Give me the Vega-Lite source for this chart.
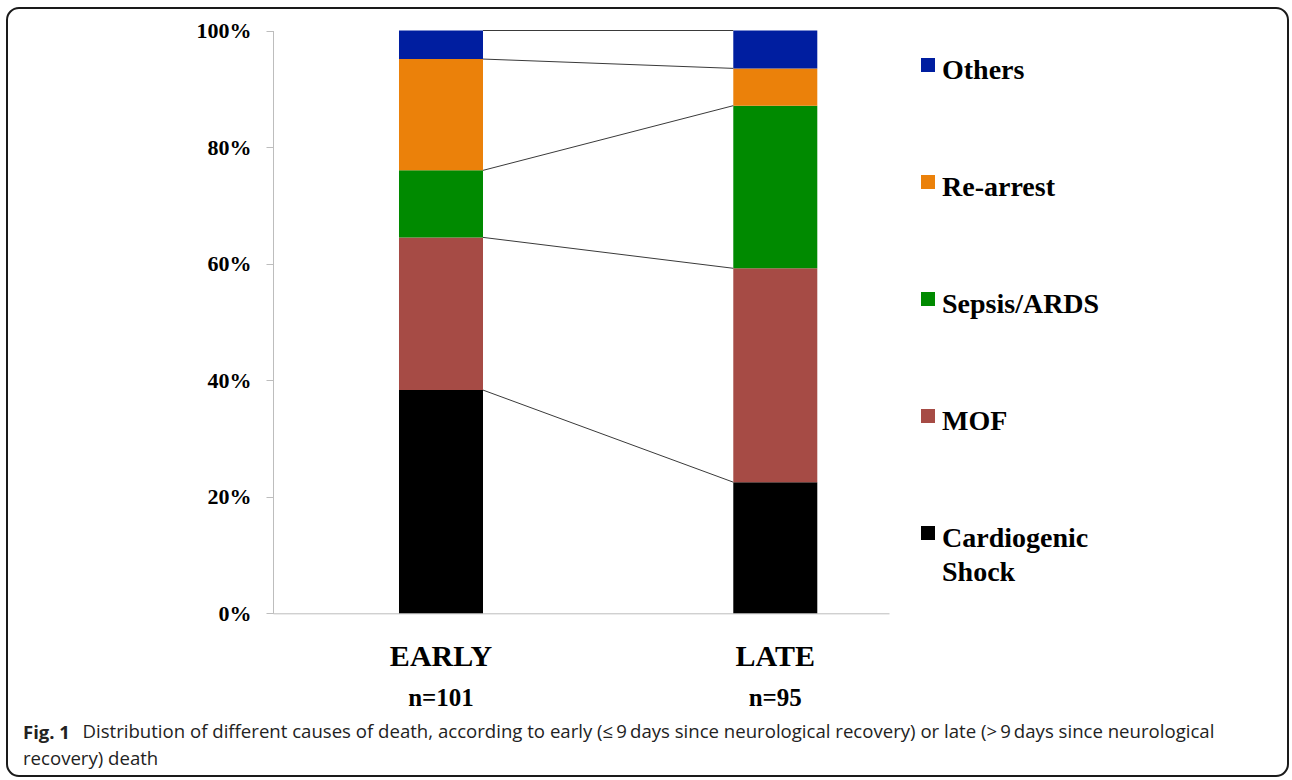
{
  "$schema": "https://vega.github.io/schema/vega-lite/v6.json",
  "width": 1281,
  "height": 768,
  "autosize": "none",
  "padding": {"left": 7, "top": 8, "right": 4, "bottom": 4},
  "background": "white",
  "config": {
    "view": {"stroke": "#1a1a1a", "strokeWidth": 2, "cornerRadius": 12, "fill": "white"},
    "axis": {"grid": false, "title": null, "domainColor": "#bdbdbd", "tickColor": "#bdbdbd", "labelColor": "#000000", "labelFont": "Liberation Serif", "labelFontWeight": "bold"}
  },
  "title": {
    "text": "Fig. 1",
    "subtitle": "recovery) death",
    "orient": "bottom",
    "anchor": "start",
    "frame": "group",
    "offset": -52,
    "dx": 16,
    "font": "Open Sans",
    "fontSize": 18.5,
    "fontWeight": "bold",
    "color": "#222222",
    "subtitleFont": "Open Sans",
    "subtitleFontSize": 18.6,
    "subtitleFontWeight": "normal",
    "subtitleColor": "#222222",
    "subtitlePadding": 7
  },
  "data": {
    "values": [
      {"group": "EARLY", "cause": "Cardiogenic Shock", "rank": 1, "pct": 38.3},
      {"group": "EARLY", "cause": "MOF", "rank": 2, "pct": 26.2},
      {"group": "EARLY", "cause": "Sepsis/ARDS", "rank": 3, "pct": 11.5},
      {"group": "EARLY", "cause": "Re-arrest", "rank": 4, "pct": 19.1},
      {"group": "EARLY", "cause": "Others", "rank": 5, "pct": 4.9},
      {"group": "LATE", "cause": "Cardiogenic Shock", "rank": 1, "pct": 22.5},
      {"group": "LATE", "cause": "MOF", "rank": 2, "pct": 36.7},
      {"group": "LATE", "cause": "Sepsis/ARDS", "rank": 3, "pct": 27.9},
      {"group": "LATE", "cause": "Re-arrest", "rank": 4, "pct": 6.4},
      {"group": "LATE", "cause": "Others", "rank": 5, "pct": 6.5}
    ]
  },
  "resolve": {"scale": {"x": "shared", "y": "shared"}, "axis": {"x": "independent"}},
  "layer": [
    {
      "mark": {"type": "bar"},
      "encoding": {
        "x": {
          "field": "group",
          "type": "nominal",
          "scale": {"domain": ["EARLY", "LATE"], "range": [266, 882], "paddingInner": 0.7487, "paddingOuter": 0.2957, "align": 0.6373},
          "axis": {"orient": "bottom", "offset": -162.7, "ticks": false, "labelAngle": 0, "labelFontSize": 30, "labelPadding": 28, "domainColor": "#bdbdbd"}
        },
        "y": {
          "field": "pct",
          "type": "quantitative",
          "stack": "zero",
          "scale": {"domain": [0, 100], "range": [605.3, 22.5], "nice": false, "zero": true},
          "axis": {"orient": "left", "offset": -266, "values": [0, 20, 40, 60, 80, 100], "labelExpr": "datum.value + '%'", "labelFontSize": 22, "tickSize": 7, "labelPadding": 15}
        },
        "order": {"field": "rank", "type": "quantitative"},
        "color": {
          "field": "cause",
          "type": "nominal",
          "scale": {"domain": ["Others", "Re-arrest", "Sepsis/ARDS", "MOF", "Cardiogenic Shock"], "range": ["#001ea0", "#eb810a", "#008a00", "#a64b45", "#000000"]},
          "legend": {
            "title": null,
            "orient": "none",
            "legendX": 907,
            "legendY": 43,
            "padding": 0,
            "symbolType": "square",
            "symbolSize": 196,
            "symbolStrokeWidth": 0,
            "labelFont": "Liberation Serif",
            "labelFontWeight": "bold",
            "labelFontSize": 28,
            "labelColor": "#000000",
            "labelOffset": 0,
            "labelLimit": 400,
            "rowPadding": 83,
            "labelBaseline": "alphabetic",
            "labelExpr": "datum.label == 'Cardiogenic Shock' ? ['Cardiogenic', 'Shock'] : datum.label",
            "encode": {"labels": {"update": {"dy": {"value": 14}, "lineHeight": {"value": 34}}}}
          }
        }
      }
    },
    {
      "transform": [
        {"window": [{"op": "sum", "field": "pct", "as": "cum"}], "groupby": ["group"], "sort": [{"field": "rank"}], "frame": [null, 0]},
        {"window": [{"op": "lead", "field": "cum", "as": "cum_next"}, {"op": "lead", "field": "group", "as": "group_next"}], "groupby": ["cause"], "sort": [{"field": "group"}], "frame": [null, null]},
        {"filter": "datum.group_next != null"}
      ],
      "mark": {"type": "rule", "color": "#3a3a3a", "strokeWidth": 1},
      "encoding": {
        "x": {
          "field": "group",
          "type": "nominal",
          "bandPosition": 1,
          "axis": {
            "orient": "bottom", "offset": -162.7, "ticks": false, "domain": false, "labelAngle": 0, "labelFontSize": 25, "labelPadding": 72,
            "labelExpr": "datum.value == 'EARLY' ? 'n=101' : 'n=95'",
            "title": "Distribution of different causes of death, according to early (\u2264\u20099\u2009days since neurological recovery) or late (>\u20099\u2009days since neurological",
            "titleX": 75, "titleY": 123.7, "titleAlign": "left", "titleAnchor": null, "titleBaseline": "alphabetic", "titleAngle": 0,
            "titleFont": "Open Sans", "titleFontSize": 18.6, "titleFontWeight": "normal", "titleColor": "#222222", "titleLimit": 1300
          }
        },
        "x2": {"field": "group_next", "bandPosition": 0},
        "y": {"field": "cum", "type": "quantitative"},
        "y2": {"field": "cum_next"}
      }
    }
  ]
}
